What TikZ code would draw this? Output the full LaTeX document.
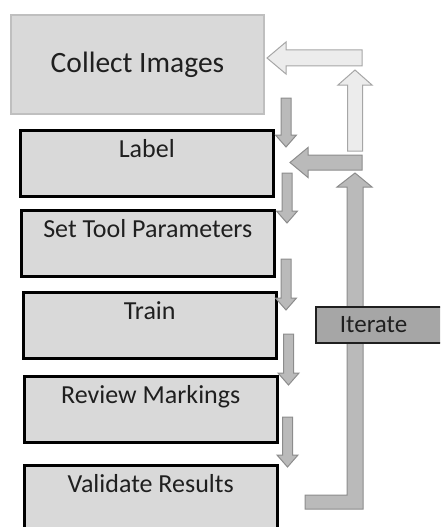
\documentclass[tikz,border=0pt]{standalone}
\usepackage{fontspec}
\setmainfont{Carlito}
\usetikzlibrary{calc}

\definecolor{boxgray}{HTML}{D9D9D9}
\definecolor{edgegray}{HTML}{BFBFBF}
\definecolor{textgray}{HTML}{1F1F1F}
\definecolor{arrowgray}{HTML}{BABABA}
\definecolor{arrowedge}{HTML}{8C8C8C}
\definecolor{lightfill}{HTML}{ECECEC}
\definecolor{lightedge}{HTML}{A6A6A6}
\definecolor{iterfill}{HTML}{A6A6A6}

% block arrow: [style]{tail}{tip}{half shaft}{half head}{head length}
\newcommand{\blkarrow}[6][]{%
  \path (#2) coordinate (bt) (#3) coordinate (bh) ($(bh)!#6!(bt)$) coordinate (bb);
  \draw[#1] ($(bt)!#4!90:(bh)$) -- ($(bb)!#4!90:(bh)$) -- ($(bb)!#5!90:(bh)$) -- (bh)
    -- ($(bb)!#5!-90:(bh)$) -- ($(bb)!#4!-90:(bh)$) -- ($(bt)!#4!-90:(bh)$) -- cycle;
}

\tikzset{
  stage/.style={draw=black, line width=2.5pt, fill=boxgray, anchor=north west,
    minimum width=253pt, minimum height=66pt, inner sep=0pt,
    text height=27.5pt, text depth=38.5pt, text=textgray,
    font=\fontsize{26}{26}\selectfont},
  grayarrow/.style={fill=arrowgray, draw=arrowedge, line width=1pt, line join=miter},
  lightarrow/.style={fill=lightfill, draw=lightedge, line width=1pt, line join=miter},
}

\begin{document}
\begin{tikzpicture}[x=1pt, y=-1pt]
  \useasboundingbox (0,0) rectangle (440,527);
  \clip (0,0) rectangle (440,527);

  % stages
  \node[draw=edgegray, line width=2pt, fill=boxgray, anchor=north west,
    minimum width=253pt, minimum height=99pt, text=textgray,
    font=\fontsize{29.5}{29.5}\selectfont] (collect) at (10,14) {Collect Images};
  \node[stage] (label) at (19,129) {Label};
  \node[stage] (params) at (20,209) {Set Tool Parameters};
  \node[stage] (train) at (22,291) {Train};
  \node[stage] (review) at (23,375) {Review Markings};
  \node[stage, minimum height=90pt, text depth=62.5pt] (validate) at (23,464) {Validate Results};

  % step arrows
  \foreach \x/\ya/\yb in {286/98/147, 287/173/223, 286/259/310, 288.5/334/385, 287.5/417/467}
    \blkarrow[grayarrow]{\x,\ya}{\x,\yb}{5pt}{10.5pt}{12pt};

  % feedback
  \draw[grayarrow] (305,495) -- (347,495) -- (347,187) -- (337,187) -- (355,173)
    -- (372,187) -- (363,187) -- (363,509) -- (305,509) -- cycle;
  \blkarrow[grayarrow]{362,162.5}{290,162.5}{7.5pt}{15pt}{18pt};
  \blkarrow[lightarrow]{355,151}{355,70}{7.5pt}{17pt}{15pt};
  \blkarrow[lightarrow]{362,58}{267,58}{8pt}{16pt}{19pt};

  \node[draw=textgray, line width=1.8pt, fill=iterfill, anchor=north west,
    minimum height=36pt, text width=106pt, inner xsep=24pt, inner ysep=0pt, align=left,
    text=textgray, font=\fontsize{25}{25}\selectfont] (iterate) at (315,306) {Iterate};
\end{tikzpicture}
\end{document}
